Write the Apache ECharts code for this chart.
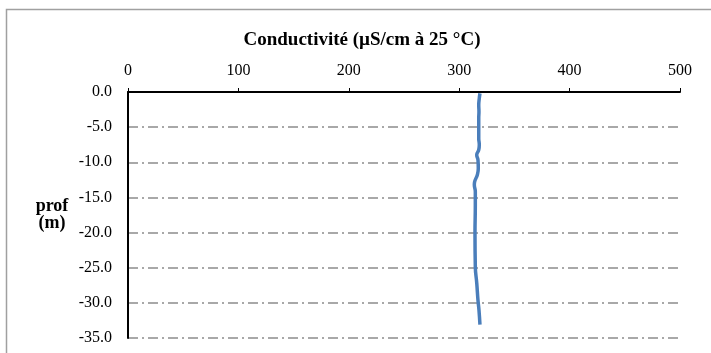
<!DOCTYPE html>
<html>
<head>
<meta charset="utf-8">
<script src="https://cdn.jsdelivr.net/npm/echarts@6/dist/echarts.min.js"></script>
<style>
  html, body { margin: 0; padding: 0; background: #fff; }
  #chart { width: 711px; height: 353px; }
</style>
</head>
<body>
<div id="chart"></div>
<script>
// profil de conductivité : profondeur (m) et conductivité (µS/cm à 25 °C)
const depth = [-0.2, -0.9, -1.85, -2.8, -3.7, -5.2, -6.6, -7.5, -8.25, -8.96, -9.67,
  -10.85, -11.8, -12.76, -13.2, -14.2, -16.1, -20.1, -24.85, -27.2, -29.6, -31.0, -33.1]
const conductivity = [318.8, 318.2, 317.7, 317.9, 317.7, 317.7, 317.7, 318.2, 317.7, 315.9, 317.0,
  317.3, 316.4, 314.0, 313.7, 314.6, 314.6, 314.3, 314.6, 315.9, 317.0, 317.9, 318.8]
const xTicks = { min: 0, max: 500, step: 100 }
const yTicks = { min: -35, max: 0, step: 5 }

const serif = '"Liberation Serif", "Times New Roman", serif'

let chart = echarts.init(document.getElementById('chart'))

let points = []
for (let i = 0; i < depth.length; i++) {
  points.push([conductivity[i], depth[i]])
}

chart.setOption({
  animation: false,
  title: {
    text: 'Conductivité (µS/cm à 25 °C)',
    left: 357,
    top: 26,
    textAlign: 'center',
    textStyle: { fontFamily: serif, fontSize: 19, fontWeight: 'bold', color: '#000' }
  },
  grid: { left: 128, right: 31, top: 92, bottom: 15 },
  xAxis: {
    type: 'value',
    position: 'top',
    min: xTicks.min,
    max: xTicks.max,
    interval: xTicks.step,
    axisLine: { show: true, onZero: false, lineStyle: { color: '#000', width: 2 } },
    axisTick: { show: true, length: 4, lineStyle: { color: '#000', width: 1 } },
    axisLabel: { fontFamily: serif, fontSize: 16, color: '#000', margin: 13 },
    splitLine: { show: false }
  },
  yAxis: {
    type: 'value',
    min: yTicks.min,
    max: yTicks.max,
    interval: yTicks.step,
    name: 'prof\n(m)',
    nameLocation: 'middle',
    nameRotate: 0,
    nameGap: 76,
    nameTextStyle: { fontFamily: serif, fontSize: 18, fontWeight: 'bold', color: '#000', lineHeight: 17, align: 'center' },
    axisLine: { show: true, onZero: false, lineStyle: { color: '#000', width: 2 } },
    axisTick: { show: false },
    axisLabel: {
      fontFamily: serif, fontSize: 16, color: '#000', margin: 16,
      formatter: v => v.toFixed(1)
    },
    splitLine: { show: true, lineStyle: { color: '#8c8c8c', width: 1.5, type: [10, 4, 2, 4] } }
  },
  series: [{
    type: 'line',
    data: points,
    smooth: true,
    showSymbol: false,
    lineStyle: { color: '#4a7ebb', width: 3.5 }
  }],
  graphic: [{
    type: 'polyline',
    shape: { points: [[6.5, 353], [6.5, 9.5], [711, 9.5]] },
    style: { stroke: '#a0a0a0', lineWidth: 1.5, fill: null }
  }]
})
</script>
</body>
</html>
